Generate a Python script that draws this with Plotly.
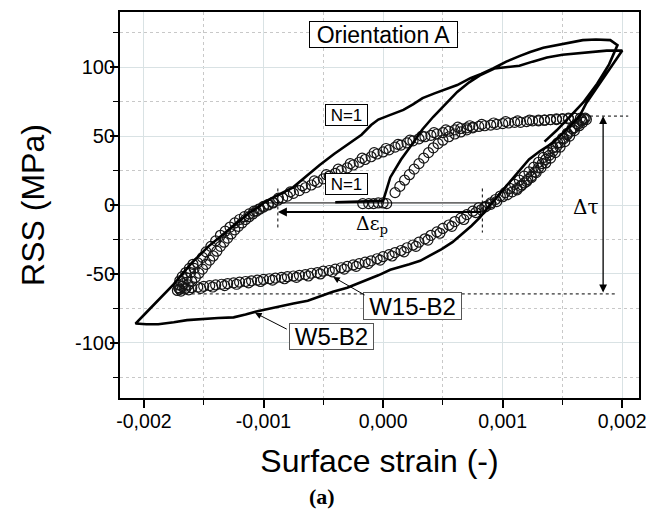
import plotly.graph_objects as go

# ---------------- data ----------------
# W5-B2 : solid line, first loading (N=1) + following cycles
w5_strain = [
    -0.00040, -0.00020, 0.00000, 0.00006, 0.00015, 0.00025, 0.00033, 0.00042, 0.00052, 0.00062,
    0.00072, 0.00081, 0.00093,
    0.00104, 0.00114, 0.00125, 0.00137, 0.00150, 0.00164, 0.00176, 0.00187, 0.00200,
    0.00193, 0.00185, 0.00177, 0.00170, 0.00164, 0.00156, 0.00148, 0.00140, 0.00131, 0.00122,
    0.00114, 0.00106, 0.00099, 0.00092, 0.00086, 0.00081, 0.00074, 0.00066, 0.00058, 0.00049,
    0.00040, 0.00031, 0.00022, 0.00013, 0.00006, -0.00004, -0.00019, -0.00030, -0.00042, -0.00053,
    -0.00063, -0.00075, -0.00086, -0.00096, -0.00105, -0.00115, -0.00125, -0.00138, -0.00153, -0.00164,
    -0.00175, -0.00188, -0.00198, -0.00207,
    -0.00198, -0.00188, -0.00181, -0.00174, -0.00167, -0.00160, -0.00153, -0.00146, -0.00139, -0.00132,
    -0.00125, -0.00118, -0.00111, -0.00104, -0.00100, -0.00093, -0.00084, -0.00075, -0.00064, -0.00053,
    -0.00041, -0.00028, -0.00018, -0.00010, -0.00004, 0.00005, 0.00017, 0.00025, 0.00033, 0.00043,
    0.00052, 0.00062, 0.00073, 0.00082, 0.00092, 0.00103, 0.00114, 0.00123, 0.00134, 0.00145,
    0.00156, 0.00167, 0.00178, 0.00190, 0.00196,
    0.00189, 0.00179, 0.00168, 0.00156, 0.00145, 0.00135,
]
w5_stress = [
    2.0, 2.5, 3.0, 20, 33, 45, 55, 64, 73, 82,
    89, 94, 99,
    100, 101, 104, 107, 109, 110, 111, 112, 112,
    103, 93, 83, 74, 64, 57, 50, 44, 39, 33,
    25, 17, 10, 3, -3.5, -9, -15, -21, -27, -32,
    -36.5, -40.5, -43, -45.5, -47, -51, -56.5, -60, -63, -66.5,
    -69.5, -71.5, -73.5, -75.5, -77, -79.5, -81.5, -82, -83, -83.5,
    -85, -86.5, -86.5, -86,
    -78, -69, -63, -56.5, -49, -42, -36, -30, -25, -20,
    -14.5, -9.5, -5, -1.5, 1.5, 5, 9, 13, 21, 29,
    37, 45, 51, 58, 62, 65, 69, 73, 77.5, 81,
    84, 87, 92, 95, 99, 104, 108, 111, 114, 116,
    118, 119.6, 120, 119.6, 116,
    102, 88, 75, 64, 54, 46,
]

# W15-B2 : open circles, first loading (N=1)
w15_init_strain = [
    -0.00017, -0.00012, -0.00008, -0.00004, 0.00000, 0.00003,
    0.00010, 0.00014, 0.00018, 0.00022, 0.00026, 0.00030, 0.00034, 0.00038, 0.00042, 0.00046,
    0.00050, 0.00055, 0.00060, 0.00065, 0.00070, 0.00075,
]
w15_init_stress = [
    1, 1, 1, 1.5, 1.5, 1,
    9, 13.5, 18, 22, 26, 30, 34, 38, 41.5, 44.5,
    47, 49.5, 51.5, 53, 54.5, 56,
]

# W15-B2 cycle A : ascending branch (compression tip -> tension tip)
w15_up_strain = [
    -0.00170, -0.00167, -0.00164, -0.00161, -0.00158, -0.00155, -0.00151, -0.00148, -0.00144, -0.00140,
    -0.00136, -0.00132, -0.00128, -0.00124, -0.00120, -0.00116, -0.00112, -0.00108, -0.00104, -0.00100,
    -0.00096, -0.00092, -0.00088, -0.00084, -0.00080, -0.00075, -0.00070, -0.00065, -0.00060, -0.00055,
    -0.00050, -0.00045, -0.00040, -0.00035, -0.00030, -0.00025, -0.00020, -0.00015, -0.00010, -0.00005,
    0.00000, 0.00005, 0.00010, 0.00015, 0.00020, 0.00025, 0.00030, 0.00035, 0.00040, 0.00045,
    0.00050, 0.00055, 0.00060, 0.00065, 0.00070, 0.00075, 0.00080, 0.00085, 0.00090, 0.00095,
    0.00100, 0.00105, 0.00110, 0.00115, 0.00120, 0.00125, 0.00130, 0.00135, 0.00140, 0.00145,
    0.00150, 0.00155, 0.00160, 0.00165, 0.00168,
]
w15_up_stress = [
    -61, -57, -53, -49, -46, -42, -38, -34, -30, -26,
    -22, -19, -16, -13, -10.5, -8.5, -6.5, -4.5, -3, -1,
    0.5, 2, 3.5, 5, 6.5, 8.5, 10.5, 12.5, 14.5, 16.5,
    19, 21, 23, 25, 27, 29, 31, 33, 35, 37,
    38.5, 40, 42, 43.5, 45, 46.5, 48, 49.5, 50.5, 51.5,
    52.5, 53.5, 54.5, 55.5, 56, 56.5, 57, 57.5, 58, 58.5,
    59, 59.5, 60, 60, 60.5, 61, 61, 61.5, 62, 62,
    62.5, 62.5, 63, 63, 62.5,
]

# W15-B2 cycle A : descending branch (tension tip -> compression tip)
w15_down_strain = [
    0.00170, 0.00167, 0.00164, 0.00160, 0.00156, 0.00152, 0.00148, 0.00144, 0.00140, 0.00136,
    0.00132, 0.00128, 0.00124, 0.00120, 0.00116, 0.00112, 0.00108, 0.00104, 0.00100, 0.00095,
    0.00090, 0.00085, 0.00080, 0.00075, 0.00070, 0.00065, 0.00060, 0.00055, 0.00050, 0.00045,
    0.00040, 0.00035, 0.00030, 0.00025, 0.00020, 0.00015, 0.00010, 0.00005, 0.00000, -0.00005,
    -0.00010, -0.00015, -0.00020, -0.00025, -0.00030, -0.00035, -0.00040, -0.00045, -0.00050, -0.00055,
    -0.00060, -0.00065, -0.00070, -0.00075, -0.00080, -0.00085, -0.00090, -0.00095, -0.00100, -0.00105,
    -0.00110, -0.00115, -0.00120, -0.00125, -0.00130, -0.00135, -0.00140, -0.00145, -0.00150, -0.00155,
    -0.00160, -0.00165, -0.00170,
]
w15_down_stress = [
    62, 60, 57.5, 54, 50, 46, 42, 38, 34, 30.5,
    27, 23.5, 20, 17, 14.5, 12, 9.5, 7.5, 6, 2.5,
    0.5, -1.5, -2, -4.5, -7, -9.5, -12, -14.5, -17, -19.5,
    -22, -24.5, -27, -29, -31, -33, -34.5, -36, -37.5, -39,
    -40.5, -41.5, -42.5, -43.5, -44.5, -45.5, -46.5, -47.5, -48, -49,
    -49.5, -50.5, -51, -51.5, -52, -52.5, -53, -53.5, -54, -54.5,
    -55, -55.5, -56, -56.5, -57, -57.5, -58, -58.5, -59, -59.5,
    -60, -60.5, -61,
]

# W15-B2 cycle B (later, stabilised cycles, slightly shifted band)
w15_b_up_strain = [
    -0.00172, -0.00171, -0.00169, -0.00168, -0.00166, -0.00163, -0.00160, -0.00157, -0.00154, -0.00151,
    -0.00148, -0.00145, -0.00142, -0.00139, -0.00136, -0.00133, -0.00130, -0.00127, -0.00124, -0.00121,
    -0.00118, -0.00115, -0.00112, -0.00109, -0.00106, -0.00103, -0.00100, -0.00096, -0.00092,
    -0.000875, -0.000775, -0.000675, -0.000575, -0.000475, -0.000375, -0.000275, -0.000175, -0.000075,
    0.000025, 0.000125, 0.000225, 0.000325, 0.000425, 0.000525, 0.000625, 0.000725, 0.000825, 0.000925,
    0.001025, 0.001125, 0.001225, 0.00130, 0.00135, 0.00140, 0.00145, 0.00150, 0.00155, 0.00160,
]
w15_b_up_stress = [
    -62, -60, -62.5, -59, -61, -58, -55.5, -52.5, -49.5, -46.5,
    -43, -40, -37, -33.5, -30, -27, -24, -21, -18, -15.5,
    -13, -10.5, -8.5, -6.5, -4.5, -3, -1.5, 0, 1.5,
    5, 9.5, 14, 17.5, 22, 26, 30, 34, 38,
    41, 44, 47, 50, 52.5, 54.5, 56.5, 57.5, 58.5, 59.5,
    60.5, 61, 61.5, 61.5, 61.5, 62, 62.5, 62.5, 63, 63,
]
w15_b_down_strain = [
    0.00166, 0.00162, 0.00158, 0.00154, 0.00150, 0.00146, 0.00142, 0.00138, 0.00134, 0.00130,
    0.00126, 0.00122, 0.00118, 0.00114, 0.00110, 0.00106, 0.00102, 0.00098, 0.00094, 0.00090,
    0.00086, 0.00082,
    0.000775, 0.000675, 0.000575, 0.000475, 0.000375, 0.000275, 0.000175, 0.000075, -0.000025, -0.000125,
    -0.000225, -0.000325, -0.000425, -0.000525, -0.000625, -0.000725, -0.000825, -0.000925, -0.001025, -0.001125,
    -0.001225, -0.001325, -0.001425, -0.001525, -0.001625,
]
w15_b_down_stress = [
    62, 59, 55.5, 52, 48.5, 45, 41.5, 38, 34.5, 31,
    27.5, 24, 21, 18, 15, 12, 9, 6.5, 4, 1.5,
    -1, -3.5,
    -5.5, -10.5, -15.5, -20.5, -25.5, -30, -34, -37, -40, -42.5,
    -44.5, -46.5, -48.5, -50, -51.5, -52.5, -53.5, -54.5, -55.5, -56.5,
    -57.5, -58.5, -59.5, -60.5, -61.5,
]

# W15-B2 : dense overlap of many cycles at both tips
w15_tip_strain = [
    0.00169, 0.00166, 0.00163, 0.00160, 0.00157, 0.00154, 0.00151, 0.00148, 0.00145, 0.00142,
    0.00139, 0.00136, 0.00133, 0.00130, 0.00127, 0.00124, 0.00121, 0.00118, 0.00115, 0.00112,
    -0.00171, -0.00170, -0.00168, -0.00165, -0.00162, -0.00159,
]
w15_tip_stress = [
    63, 61, 58.5, 56, 53.5, 51, 48, 45, 42, 39,
    36, 33, 30, 27, 24, 21, 18.5, 16, 13.5, 11,
    -58, -55, -52, -49, -46, -43,
]

x_tickvals = [-0.002, -0.001, 0.0, 0.001, 0.002]
x_ticktext = ["-0,002", "-0,001", "0,000", "0,001", "0,002"]
x_minor = [-0.0015, -0.0005, 0.0005, 0.0015]
y_tickvals = [-100, -50, 0, 50, 100]
y_ticktext = ["-100", "-50", "0", "50", "100"]
y_minor = [-125, -75, -25, 25, 75, 125]

# annotation geometry (data units)
tau_max, tau_min = 64.5, -64.5
eps_left, eps_right = -0.00088, 0.00083

FONT = "Liberation Sans, Arial, sans-serif"

fig = go.Figure()

circ = dict(symbol="circle-open", size=10, color="#151515", line=dict(width=1.2, color="#151515"))
for xs, ys in [(w15_up_strain, w15_up_stress), (w15_down_strain, w15_down_stress),
               (w15_b_up_strain, w15_b_up_stress), (w15_b_down_strain, w15_b_down_stress),
               (w15_tip_strain, w15_tip_stress), (w15_init_strain, w15_init_stress)]:
    fig.add_trace(go.Scatter(x=xs, y=ys, mode="markers", marker=circ, showlegend=False))
fig.add_trace(go.Scatter(x=w5_strain, y=w5_stress, mode="lines",
                         line=dict(color="black", width=2.6), showlegend=False))

# dotted guide lines
dot = dict(color="black", width=1, dash="dot")
fig.add_shape(type="line", x0=0.00173, x1=0.00205, y0=tau_max, y1=tau_max, line=dot)
fig.add_shape(type="line", x0=-0.0016, x1=0.00195, y0=tau_min, y1=tau_min, line=dot)
fig.add_shape(type="line", x0=eps_left, x1=eps_left, y0=12, y1=-18, line=dot)
fig.add_shape(type="line", x0=eps_right, x1=eps_right, y0=12, y1=-20, line=dot)
fig.add_shape(type="line", x0=-0.0010, x1=0.00095, y0=1.5, y1=1.5, line=dict(color="black", width=1))

ann = []
# delta tau double arrow
ann.append(dict(x=0.00184, y=tau_max, ax=0.00184, ay=tau_min, xref="x", yref="y", axref="x", ayref="y",
                text="", showarrow=True, arrowhead=2, arrowside="end+start", arrowwidth=1.3,
                arrowsize=1.2, arrowcolor="black"))
ann.append(dict(x=0.00170, y=-1.5, text="Δτ", showarrow=False,
                font=dict(size=20, family="DejaVu Serif", color="black")))
# delta eps_p arrow
ann.append(dict(x=eps_left, y=-5, ax=eps_right, ay=-5, xref="x", yref="y", axref="x", ayref="y",
                text="", showarrow=True, arrowhead=2, arrowwidth=2, arrowsize=0.9, arrowcolor="black"))
ann.append(dict(x=-0.00009, y=-14, text="Δε<sub>p</sub>", showarrow=False,
                font=dict(size=19, family="DejaVu Serif", color="black")))
# boxed labels
box = dict(bordercolor="black", borderwidth=1, bgcolor="white", borderpad=0, showarrow=False)
ann.append(dict(x=0.0000, y=123.6, text="Orientation A", width=147, height=25,
                font=dict(size=23, family=FONT, color="black"), **box))
ann.append(dict(x=-0.00031, y=65.2, text="N=1", width=41, height=20,
                font=dict(size=17, family=FONT, color="black"), **box))
ann.append(dict(x=-0.00031, y=15.2, text="N=1", width=41, height=20,
                font=dict(size=17, family=FONT, color="black"), **box))
box2 = dict(bordercolor="#555", borderwidth=1, bgcolor="white", borderpad=0, showarrow=False)
ann.append(dict(x=0.000242, y=-73.2, text="W15-B2", width=97, height=26,
                font=dict(size=24, family=FONT, color="black"), **box2))
ann.append(dict(x=-0.000434, y=-95.7, text="W5-B2", width=83, height=25,
                font=dict(size=24, family=FONT, color="black"), **box2))
# pointer arrows of the sample labels
ann.append(dict(x=-0.000417, y=-52.2, ax=-0.000142, ay=-65.9, xref="x", yref="y", axref="x", ayref="y",
                text="", showarrow=True, arrowhead=2, arrowwidth=1, arrowsize=1.3, arrowcolor="black"))
ann.append(dict(x=-0.00107, y=-78.3, ax=-0.000793, ay=-90.6, xref="x", yref="y", axref="x", ayref="y",
                text="", showarrow=True, arrowhead=2, arrowwidth=1, arrowsize=1.3, arrowcolor="black"))
# (a)
ann.append(dict(x=0.389, y=-0.254, xref="paper", yref="paper", xanchor="center", yanchor="middle",
                text="<b>(a)</b>", showarrow=False,
                font=dict(size=22, family="Liberation Serif, Times New Roman, serif", color="black")))

fig.update_layout(
    width=646, height=514,
    margin=dict(l=120, r=7, t=12, b=116),
    paper_bgcolor="white", plot_bgcolor="white",
    font=dict(family=FONT, color="black"),
    annotations=ann,
    xaxis=dict(
        range=[-0.0022, 0.00214], tickvals=x_tickvals, ticktext=x_ticktext, automargin=False,
        ticklabelstandoff=-3, ticklabeloverflow="allow",
        tickfont=dict(size=19.5), ticks="outside", ticklen=8, tickwidth=1.5, tickcolor="black",
        showline=True, linecolor="black", linewidth=2, mirror=True,
        showgrid=True, gridcolor="#d9e2e4", gridwidth=1, zeroline=False,
        minor=dict(tickvals=x_minor, ticks="outside", ticklen=5, tickwidth=1.2, tickcolor="black",
                   showgrid=True, gridcolor="#c8c8c8", griddash="dot", gridwidth=1),
        title=dict(text="Surface strain (-)", font=dict(size=32), standoff=18),
    ),
    yaxis=dict(
        range=[-140, 140], tickvals=y_tickvals, ticktext=y_ticktext, automargin=False,
        ticklabelstandoff=-9,
        tickfont=dict(size=20), ticks="outside", ticklen=8, tickwidth=1.5, tickcolor="black",
        showline=True, linecolor="black", linewidth=2, mirror=True,
        showgrid=True, gridcolor="#d9e2e4", gridwidth=1, zeroline=False,
        minor=dict(tickvals=y_minor, ticks="outside", ticklen=5, tickwidth=1.2, tickcolor="black",
                   showgrid=True, gridcolor="#c8c8c8", griddash="dot", gridwidth=1),
        title=dict(text="RSS (MPa)", font=dict(size=32), standoff=21),
    ),
)

# remove the page's default 8 px body margin so the 646x514 figure fills the window exactly;
# hide the hover toolbar
fig.write_html("out.html",
               config={"displayModeBar": False},
               post_script="document.body.style.margin='0';"
                           "document.documentElement.style.overflow='hidden';")
